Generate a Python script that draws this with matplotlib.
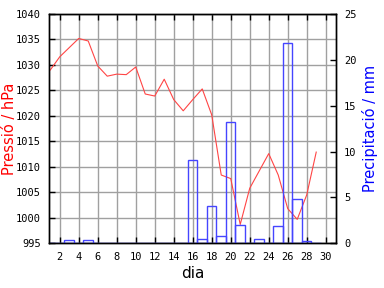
import matplotlib
matplotlib.use('Agg')
import matplotlib.pyplot as plt
import numpy as np

# daily data
days = np.arange(1, 30)
pressure = [1029.0, 1031.6, 1033.4, 1035.2, 1034.7, 1029.8, 1027.8, 1028.2, 1028.1, 1029.6,
            1024.3, 1023.9, 1027.2, 1023.2, 1021.0, 1023.2, 1025.3, 1020.2, 1008.4, 1007.7,
            998.7, 1005.8, 1009.2, 1012.6, 1008.4, 1001.8, 999.7, 1004.5, 1012.9]
rain = [0, 0, 0.4, 0, 0.4, 0, 0, 0, 0, 0,
        0, 0, 0, 0, 0, 9.1, 0.5, 4.1, 0.8, 13.2,
        2.0, 0, 0.5, 0, 1.9, 21.8, 4.8, 0.3, 0]
xticks = list(range(2, 31, 2))

tick_font = {'family': 'DejaVu Sans Mono', 'size': 7.5}

fig = plt.figure(figsize=(3.84, 2.88), dpi=100)
ax1 = fig.add_axes([49 / 384, 1 - 243.3 / 288, 286.7 / 384, 229.3 / 288])
ax2 = ax1.twinx()

ax1.plot(days, pressure, color='#ff4545', linewidth=0.8, zorder=3)
ax2.bar(days, rain, width=1.0, fill=False, edgecolor='#4545ff', linewidth=1.0)

ax1.set_xlim(0.87, 31.05)
ax1.set_ylim(995, 1040)
ax2.set_ylim(0, 25)

ax1.set_xticks(xticks)
ax1.set_yticks(range(995, 1041, 5))
ax2.set_yticks(range(0, 26, 5))

ax1.grid(True, color='#a0a0a0', linewidth=1.0)
ax1.set_axisbelow(True)

ax1.tick_params(axis='x', direction='in', top=True, length=4, width=1, pad=6)
ax1.tick_params(axis='y', direction='in', length=4, width=1, pad=6)
ax2.tick_params(axis='y', direction='in', length=4, width=1, pad=6)

for lab in ax1.get_xticklabels() + ax1.get_yticklabels() + ax2.get_yticklabels():
    lab.set_fontfamily(tick_font['family'])
    lab.set_fontsize(tick_font['size'])

for ax in (ax1, ax2):
    for s in ax.spines.values():
        s.set_color('black')
        s.set_linewidth(1.0)

ax1.set_xlabel('dia', fontsize=11, labelpad=3)
ax1.set_ylabel('Pressió / hPa', color='red', fontsize=10.5)
ax2.set_ylabel('Precipitació / mm', color='blue', fontsize=10.5)
ax1.yaxis.set_label_coords(-0.113, 0.5)
ax2.yaxis.set_label_coords(1.0907, 0.5)

plt.savefig('out.png', dpi=100)
